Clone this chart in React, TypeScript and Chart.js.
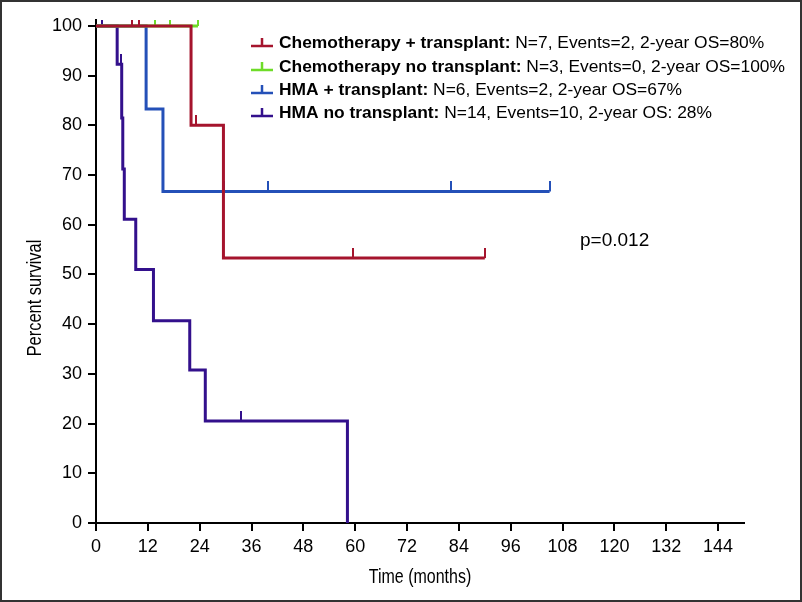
import React, { useEffect, useRef } from "react";
import { Chart, registerables } from "chart.js";

Chart.register(...registerables);

// ---- data ----
const groupNames = [
  "Chemotherapy + transplant:",
  "Chemotherapy no transplant:",
  "HMA + transplant:",
  "HMA no transplant:",
];
const groupStats = [
  "N=7, Events=2, 2-year OS=80%",
  "N=3, Events=0, 2-year OS=100%",
  "N=6, Events=2, 2-year OS=67%",
  "N=14, Events=10, 2-year OS: 28%",
];
const groupColors = ["#A5142D", "#6EDC28", "#2450B8", "#33108C"];

// Kaplan-Meier step vertices (time in months, percent survival)
const chemoTxTimes = [0, 22.0, 29.5, 90.0];
const chemoTxSurv = [100, 80.0, 53.3, 53.3];
const chemoTxCensor = [8.3, 10.0, 23.2, 59.6, 90.0];

const chemoNoTxTimes = [0, 23.6];
const chemoNoTxSurv = [100, 100];
const chemoNoTxCensor = [13.7, 17.2, 23.6];

const hmaTxTimes = [0, 11.6, 15.5, 105.0];
const hmaTxSurv = [100, 83.3, 66.7, 66.7];
const hmaTxCensor = [29.7, 39.7, 82.2, 105.0];

const hmaNoTxTimes = [0, 4.9, 5.95, 6.2, 6.55, 9.2, 13.3, 21.7, 25.3, 58.2];
const hmaNoTxSurv = [100, 92.3, 81.5, 71.2, 61.1, 51.0, 40.7, 30.8, 20.5, 0];
const hmaNoTxCensor = [1.5, 5.85, 33.6];

const xTickValues = [0, 12, 24, 36, 48, 60, 72, 84, 96, 108, 120, 132, 144];
const yTickValues = [0, 10, 20, 30, 40, 50, 60, 70, 80, 90, 100];
const xMax = 150;
const yMax = 101.2;
const pValueText = "p=0.012";
const xTitle = "Time (months)";
const yTitle = "Percent survival";

const seriesTimes = [chemoTxTimes, chemoNoTxTimes, hmaTxTimes, hmaNoTxTimes];
const seriesSurv = [chemoTxSurv, chemoNoTxSurv, hmaTxSurv, hmaNoTxSurv];
const seriesCensor = [chemoTxCensor, chemoNoTxCensor, hmaTxCensor, hmaNoTxCensor];

const FONT = "'Liberation Sans', Arial, Helvetica, sans-serif";

function survAt(times: number[], surv: number[], t: number) {
  let v = surv[0];
  for (let i = 0; i < times.length; i++) if (times[i] <= t) v = surv[i];
  return v;
}

function makeTick(color: string) {
  const c = document.createElement("canvas");
  c.width = 2;
  c.height = 20;
  const g = c.getContext("2d")!;
  g.fillStyle = color;
  g.fillRect(0, 0, 2, 10);
  return c;
}

const overlayPlugin = {
  id: "kmOverlay",
  afterDraw(chart: any) {
    const ctx = chart.ctx as CanvasRenderingContext2D;
    const area = chart.chartArea;
    ctx.save();
    // legend
    const rowY = [43, 67, 90, 113];
    const symX0 = 251;
    const symX1 = 273;
    const textX = 279;
    for (let i = 0; i < groupNames.length; i++) {
      const y = rowY[i];
      ctx.strokeStyle = groupColors[i];
      ctx.lineWidth = 2.5;
      ctx.beginPath();
      ctx.moveTo(symX0, y + 3);
      ctx.lineTo(symX1, y + 3);
      ctx.moveTo((symX0 + symX1) / 2, y + 3);
      ctx.lineTo((symX0 + symX1) / 2, y - 5);
      ctx.stroke();
      ctx.fillStyle = "#000";
      ctx.textBaseline = "middle";
      ctx.textAlign = "left";
      ctx.font = `bold 17.4px ${FONT}`;
      ctx.fillText(groupNames[i], textX, y);
      const w = ctx.measureText(groupNames[i] + " ").width;
      ctx.font = `17.4px ${FONT}`;
      ctx.fillText(groupStats[i], textX + w, y);
    }
    // p value
    ctx.font = `19px ${FONT}`;
    ctx.fillStyle = "#000";
    ctx.textBaseline = "middle";
    ctx.textAlign = "left";
    ctx.fillText(pValueText, 580, 241);
    // axis titles (condensed)
    ctx.font = `20px ${FONT}`;
    ctx.textAlign = "center";
    ctx.save();
    ctx.translate((area.left + area.right) / 2, 577);
    ctx.scale(0.8, 1);
    ctx.fillText(xTitle, 0, 0);
    ctx.restore();
    ctx.save();
    ctx.translate(35, 298);
    ctx.rotate(-Math.PI / 2);
    ctx.scale(0.82, 1);
    ctx.fillText(yTitle, 0, 0);
    ctx.restore();
    ctx.restore();
  },
};

export default function App() {
  const ref = useRef<HTMLCanvasElement | null>(null);
  useEffect(() => {
    document.body.style.margin = "0";
    const datasets: any[] = [];
    for (let i = 0; i < 4; i++) {
      const times = seriesTimes[i];
      const surv = seriesSurv[i];
      datasets.push({
        label: groupNames[i],
        data: times.map((t, k) => ({ x: t, y: surv[k] })),
        borderColor: groupColors[i],
        backgroundColor: groupColors[i],
        borderWidth: 3,
        stepped: "before",
        pointRadius: 0,
        fill: false,
        order: 2 * i + 2,
        borderCapStyle: "butt",
        borderJoinStyle: "miter",
      });
      datasets.push({
        label: groupNames[i] + " censored",
        data: seriesCensor[i].map((t) => ({ x: t, y: survAt(times, surv, t) })),
        showLine: false,
        pointStyle: makeTick(groupColors[i]),
        pointRadius: 5,
        borderColor: groupColors[i],
        backgroundColor: groupColors[i],
        order: 2 * i + 1,
      });
    }
    const chart = new Chart(ref.current!, {
      type: "line",
      data: { datasets },
      plugins: [overlayPlugin],
      options: {
        animation: false,
        responsive: false,
        events: [],
        layout: { padding: { left: 0, right: 58, top: 20, bottom: 0 } },
        plugins: { legend: { display: false }, tooltip: { enabled: false } },
        scales: {
          x: {
            type: "linear",
            min: 0,
            max: xMax,
            afterBuildTicks: (s: any) => {
              s.ticks = xTickValues.map((v) => ({ value: v }));
            },
            afterFit: (s: any) => {
              s.height = 79;
            },
            ticks: {
              autoSkip: false,
              maxRotation: 0,
              color: "#000",
              font: { family: FONT, size: 18 },
              padding: 5,
            },
            grid: {
              display: true,
              drawOnChartArea: false,
              drawTicks: true,
              tickLength: 8,
              color: "#000",
              lineWidth: 2,
            },
            border: { display: true, color: "#000", width: 2 },
          },
          y: {
            type: "linear",
            min: 0,
            max: yMax,
            afterBuildTicks: (s: any) => {
              s.ticks = yTickValues.map((v) => ({ value: v }));
            },
            afterFit: (s: any) => {
              s.width = 96;
            },
            ticks: {
              color: "#000",
              font: { family: FONT, size: 18 },
              padding: 6,
            },
            grid: {
              display: true,
              drawOnChartArea: false,
              drawTicks: true,
              tickLength: 8,
              color: "#000",
              lineWidth: 2,
            },
            border: { display: true, color: "#000", width: 2 },
          },
        },
      },
    } as any);
    return () => chart.destroy();
  }, []);

  return (
    <div style={{ position: "relative", width: 802, height: 602, background: "#fff" }}>
      <canvas ref={ref} width={802} height={602} style={{ display: "block" }} />
      <div
        style={{
          position: "absolute",
          left: 0,
          top: 0,
          width: 802,
          height: 602,
          boxSizing: "border-box",
          border: "2px solid #333",
          pointerEvents: "none",
        }}
      />
    </div>
  );
}
